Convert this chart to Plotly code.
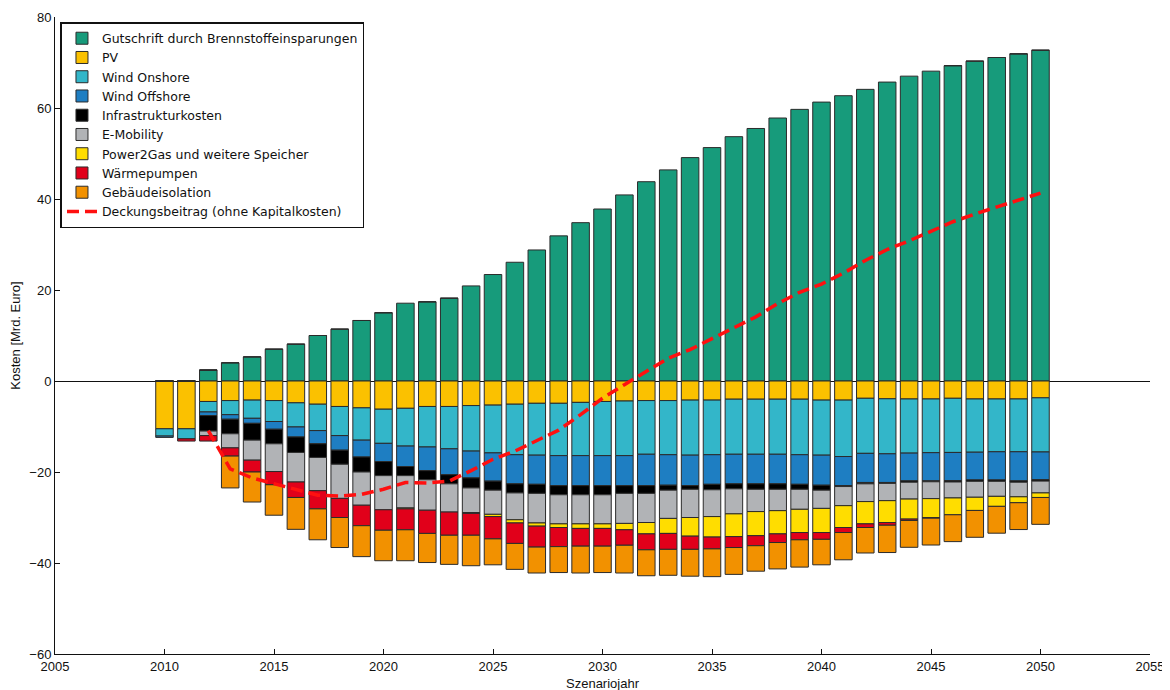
import plotly.graph_objects as go

years = list(range(2010, 2051))

gutschrift = [0, 0, 2.4, 4.0, 5.3, 7.0, 8.1, 10.0, 11.4, 13.3, 15.0, 17.1, 17.4, 18.2, 20.9, 23.4,
              26.1, 28.8, 31.9, 34.8, 37.8, 40.9, 43.8, 46.4, 49.1, 51.3, 53.7, 55.5, 57.8, 59.7,
              61.3, 62.7, 64.1, 65.7, 67.0, 68.1, 69.3, 70.3, 71.1, 71.9, 72.7]

pv = [-10.5, -10.5, -4.5, -4.3, -4.2, -4.3, -4.8, -5.1, -5.6, -5.9, -6.2, -6.0, -5.6, -5.6, -5.4,
      -5.3, -5.1, -4.9, -4.9, -4.7, -4.5, -4.4, -4.3, -4.3, -4.2, -4.2, -4.0, -4.0, -4.0, -4.0,
      -4.2, -4.2, -3.8, -3.9, -3.95, -3.95, -3.8, -3.95, -3.95, -3.95, -3.7]

wind_on = [-1.6, -2.2, -2.3, -3.1, -4.0, -4.6, -5.3, -5.8, -6.4, -7.1, -7.5, -8.3, -8.9, -9.3,
           -10.0, -10.5, -11.1, -11.4, -11.5, -11.7, -11.9, -12.0, -11.8, -11.9, -12.1, -12.0,
           -12.1, -12.1, -12.1, -12.2, -12.1, -12.4, -12.1, -12.1, -11.9, -11.8, -11.9, -11.7,
           -11.6, -11.6, -11.9]

wind_off = [-0.3, 0, -0.8, -1.0, -1.1, -1.7, -2.2, -2.9, -3.2, -3.7, -4.0, -4.5, -5.2, -5.7, -5.9,
            -6.2, -6.4, -6.4, -6.6, -6.6, -6.6, -6.6, -6.9, -6.7, -6.7, -6.5, -6.5, -6.5, -6.5,
            -6.5, -6.6, -6.4, -6.4, -6.3, -6.1, -6.2, -6.2, -6.1, -6.2, -6.4, -6.1]

infrastruktur = [0, 0, -3.4, -3.2, -3.7, -3.2, -3.4, -3.0, -3.1, -3.3, -3.1, -2.0, -2.0, -2.0,
                 -2.2, -2.0, -2.0, -2.0, -2.0, -2.0, -2.0, -1.7, -1.7, -1.1, -0.8, -1.2, -1.1,
                 -1.2, -1.2, -1.1, -1.1, -0.2, -0.3, -0.2, -0.3, -0.2, -0.3, -0.3, -0.3, -0.3, -0.3]

emobility = [0, 0, -1.0, -3.1, -4.4, -6.1, -6.5, -7.3, -7.5, -7.3, -7.5, -7.1, -6.7, -6.2, -5.4,
             -5.3, -5.9, -6.5, -6.4, -6.4, -6.4, -6.6, -6.4, -6.2, -6.2, -5.9, -5.5, -4.9, -4.7,
             -4.4, -4.0, -4.2, -3.9, -3.8, -3.7, -3.7, -3.5, -3.5, -3.3, -3.2, -2.6]

power2gas = [0, 0, 0, 0, 0, 0, 0, 0, 0, 0, 0, -0.2, 0, 0, -0.2, -0.5, -0.7, -0.7, -0.8, -1.0,
             -1.0, -1.4, -2.5, -3.3, -4.1, -4.5, -5.0, -5.3, -5.1, -5.1, -5.3, -4.8, -4.9, -4.8,
             -4.4, -4.2, -3.7, -2.9, -2.2, -1.3, -1.0]

waermepumpen = [0, -0.5, -1.2, -1.8, -2.6, -2.9, -3.4, -4.0, -4.2, -4.5, -4.5, -4.6, -5.1, -5.1,
                -4.8, -4.9, -4.5, -4.6, -4.2, -3.9, -3.9, -3.4, -3.5, -3.5, -2.9, -2.6, -2.4,
                -2.2, -1.9, -1.6, -1.5, -1.1, -0.8, -0.6, -0.3, -0.1, 0, 0, 0, 0, 0]

gebaeude = [0, 0, 0, -7.0, -6.6, -6.7, -7.0, -6.8, -6.6, -6.8, -6.7, -6.8, -6.4, -6.4, -6.7,
            -5.7, -5.7, -5.7, -5.7, -5.9, -5.8, -6.1, -5.7, -5.7, -5.9, -6.1, -5.9, -5.6, -5.8,
            -6.0, -5.6, -6.0, -5.6, -6.0, -5.9, -5.9, -5.9, -5.9, -5.9, -5.9, -5.9]

line_years = list(range(2012, 2051))
deckung = [-10.9, -19.3, -21.3, -22.6, -23.9, -25.1, -25.3, -24.9, -23.8, -22.3, -22.4, -22.0,
           -19.7, -17.2, -15.4, -13.2, -10.8, -7.4, -3.8, -0.8, 2.1, 5.0, 6.9, 9.3, 11.7, 14.1,
           17.0, 19.5, 21.3, 23.7, 26.5, 28.9, 30.8, 32.8, 35.0, 36.7, 38.3, 39.9, 41.3]

x_ticks = list(range(2005, 2056, 5))
y_ticks = list(range(-60, 81, 20))

series = [
    ("Gutschrift durch Brennstoffeinsparungen", gutschrift, "#179B7B"),
    ("PV", pv, "#FBC100"),
    ("Wind Onshore", wind_on, "#33B6C9"),
    ("Wind Offshore", wind_off, "#1E7EC2"),
    ("Infrastrukturkosten", infrastruktur, "#000000"),
    ("E-Mobility", emobility, "#B1B3B6"),
    ("Power2Gas und weitere Speicher", power2gas, "#FFDD00"),
    ("Wärmepumpen", waermepumpen, "#E1001A"),
    ("Gebäudeisolation", gebaeude, "#F29100"),
]

fig = go.Figure()
for name, vals, col in series:
    fig.add_trace(go.Bar(
        x=years, y=vals, name=name, width=0.8,
        marker=dict(color=col, line=dict(color="#2b2b2b", width=1)),
    ))

fig.add_trace(go.Scatter(
    x=line_years, y=deckung, mode="lines", name="Deckungsbeitrag (ohne Kapitalkosten)",
    line=dict(color="#FF1010", width=3.5, dash="12px,6px"),
))

font_family = "Liberation Sans, Arial, sans-serif"
legend_font = "DejaVu Sans, Liberation Sans, sans-serif"

fig.update_layout(
    width=1170, height=690,
    barmode="relative",
    plot_bgcolor="white", paper_bgcolor="white",
    margin=dict(l=47, r=28, t=9, b=44, autoexpand=False),
    font=dict(family=font_family, size=13, color="#111111"),
    showlegend=True,
    legend=dict(
        x=0.005, y=0.992, xanchor="left", yanchor="top",
        bgcolor="white", bordercolor="#111111", borderwidth=1.5,
        font=dict(family=legend_font, size=12.5, color="#111111"),
        tracegroupgap=0, itemwidth=30,
    ),
    xaxis=dict(
        range=[2005, 2055], tickmode="array", tickvals=x_ticks,
        ticks="inside", ticklen=5, tickcolor="#111111",
        showline=True, linecolor="#111111", linewidth=1,
        showgrid=False, zeroline=False, automargin=False,
        title=dict(text="Szenariojahr", font=dict(size=13), standoff=6),
        tickfont=dict(size=13),
    ),
    yaxis=dict(
        range=[-60, 80], tickmode="array", tickvals=y_ticks,
        ticks="inside", ticklen=5, tickcolor="#111111",
        showline=True, linecolor="#111111", linewidth=1,
        showgrid=False, zeroline=True, zerolinecolor="#111111", zerolinewidth=1,
        automargin=False,
        title=dict(text="Kosten [Mrd. Euro]", font=dict(size=13), standoff=6),
        tickfont=dict(size=13),
    ),
)

fig.write_html("out.html")
